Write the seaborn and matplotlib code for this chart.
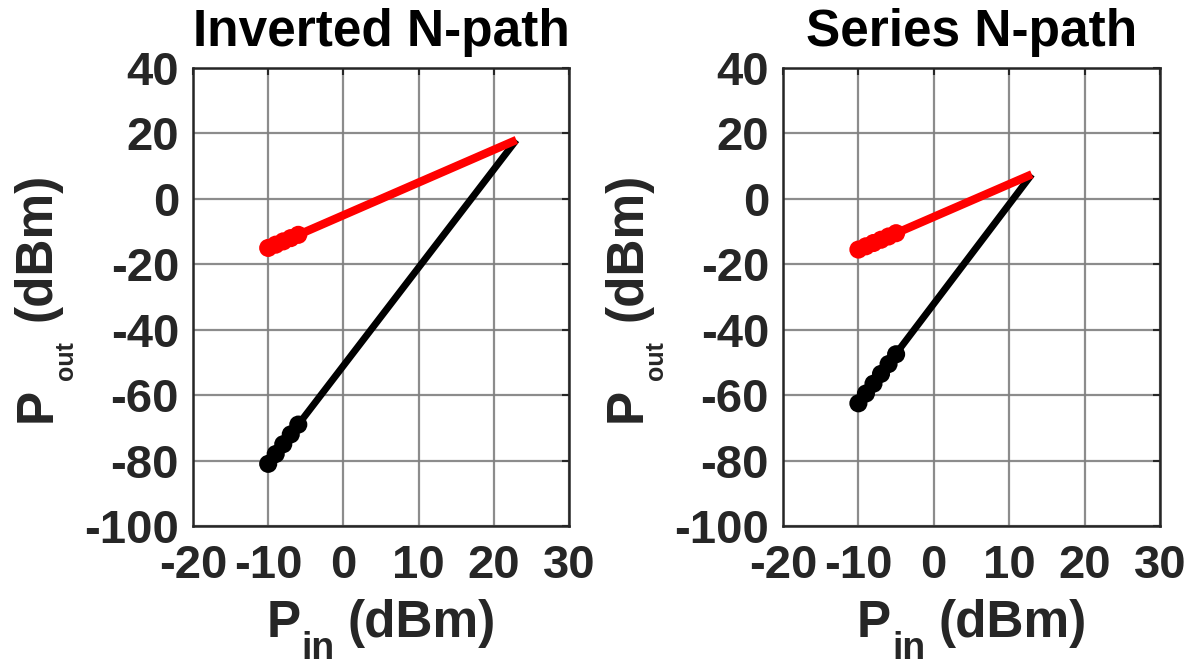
import matplotlib
matplotlib.use("Agg")
import matplotlib.pyplot as plt
import pandas as pd
import seaborn as sns

# Measured two-tone points (Pin in dBm) and fitted extrapolation lines
titles = ["Inverted N-path", "Series N-path"]

pin_meas_inv = [-10, -9, -8, -7, -6]
fund_meas_inv = [-15, -14, -13, -12, -11]
im3_meas_inv = [-81, -78, -75, -72, -69]
pin_fit_inv = [-10, 23]
fund_fit_inv = [-15, 18]
im3_fit_inv = [-81, 18]

pin_meas_ser = [-10, -9, -8, -7, -6, -5]
fund_meas_ser = [-15.5, -14.5, -13.5, -12.5, -11.5, -10.5]
im3_meas_ser = [-62.5, -59.5, -56.5, -53.5, -50.5, -47.5]
pin_fit_ser = [-10, 13]
fund_fit_ser = [-15.5, 7.5]
im3_fit_ser = [-62.5, 7.5]

x_ticks = [-20, -10, 0, 10, 20, 30]
y_ticks = [40, 20, 0, -20, -40, -60, -80, -100]

sns.set_theme(style="white")
plt.rcParams["font.family"] = ["Liberation Sans", "DejaVu Sans"]
plt.rcParams["font.weight"] = "bold"
plt.rcParams["axes.unicode_minus"] = False

TXT = "#262626"
FS_TICK = 34
FS_LAB = 37
FS_SUB_X = 27
FS_SUB_Y = 18

W, H = 1198, 665
fig = plt.figure(figsize=(W / 100, H / 100), dpi=100)
ax_l = fig.add_axes([193 / W, 1 - 526 / H, 376 / W, 458 / H])
ax_r = fig.add_axes([783 / W, 1 - 526 / H, 377 / W, 458 / H])

panels = [
    (ax_l, titles[0], pin_meas_inv, fund_meas_inv, im3_meas_inv,
     pin_fit_inv, fund_fit_inv, im3_fit_inv),
    (ax_r, titles[1], pin_meas_ser, fund_meas_ser, im3_meas_ser,
     pin_fit_ser, fund_fit_ser, im3_fit_ser),
]


def label_group(ax, main, sub, rest, vertical):
    """Axis label made of a main letter, a lowered subscript and a tail."""
    kw = dict(color=TXT, fontweight="bold", annotation_clip=False)
    if not vertical:
        t_p = ax.annotate(main, xy=(0, 0), xycoords="figure pixels",
                          ha="left", va="bottom", fontsize=FS_LAB, **kw)
        t_s = ax.annotate(sub, xy=(1, 0), xycoords=t_p, xytext=(1, -13.5),
                          textcoords="offset points", ha="left", va="bottom",
                          fontsize=FS_SUB_X, **kw)
        t_r = ax.annotate(rest, xy=(1, 0), xycoords=(t_s, t_p),
                          xytext=(9, 0), textcoords="offset points",
                          ha="left", va="bottom", fontsize=FS_LAB, **kw)
    else:
        t_p = ax.annotate(main, xy=(0, 0), xycoords="figure pixels",
                          ha="right", va="bottom", rotation=90,
                          fontsize=FS_LAB, **kw)
        t_s = ax.annotate(sub, xy=(1, 1), xycoords=t_p, xytext=(11.5, 5),
                          textcoords="offset points", ha="right", va="bottom",
                          rotation=90, fontsize=FS_SUB_Y, **kw)
        t_r = ax.annotate(rest, xy=(1, 1), xycoords=(t_p, t_s),
                          xytext=(0, 15), textcoords="offset points",
                          ha="right", va="bottom", rotation=90,
                          fontsize=FS_LAB, **kw)
    return t_p, t_s, t_r


def shift(t, dx, dy):
    x, y = t.xyann
    t.xyann = (x + dx, y + dy)
    t.xy = (x + dx, y + dy)


groups = []
for ax, title, pm, fm, im, pf, ff, imf in panels:
    meas = pd.DataFrame({"pin": pm, "fund": fm, "im3": im})
    fit = pd.DataFrame({"pin": pf, "fund": ff, "im3": imf})

    # third-order product (black), then fundamental (red)
    sns.lineplot(data=fit, x="pin", y="im3", ax=ax, color="black",
                 linewidth=5, solid_capstyle="butt", zorder=3)
    sns.scatterplot(data=meas, x="pin", y="im3", ax=ax, color="black",
                    s=170, edgecolor="none", zorder=4)
    sns.lineplot(data=fit, x="pin", y="fund", ax=ax, color="#ff0000",
                 linewidth=6, solid_capstyle="butt", zorder=5)
    sns.scatterplot(data=meas, x="pin", y="fund", ax=ax, color="#ff0000",
                    s=170, edgecolor="none", zorder=6)

    ax.set_xlim(-20, 30)
    ax.set_ylim(-100, 40)
    ax.set_xticks(x_ticks)
    ax.set_yticks(y_ticks)
    ax.grid(True, color="#808080", linewidth=1.6, alpha=0.9)
    ax.set_axisbelow(True)
    for sp in ax.spines.values():
        sp.set_visible(True)
        sp.set_color(TXT)
        sp.set_linewidth(1.8)
    ax.tick_params(axis="both", direction="in", length=5, width=1.5,
                   top=True, right=True, labelsize=FS_TICK, colors=TXT)
    ax.tick_params(axis="x", pad=13)
    ax.tick_params(axis="y", pad=10)
    for lbl in ax.get_xticklabels() + ax.get_yticklabels():
        lbl.set_fontweight("bold")
    ax.set_title(title, fontsize=FS_LAB, fontweight="bold", color="black",
                 pad=16)
    ax.set_xlabel("")
    ax.set_ylabel("")

    xg = label_group(ax, "P", "in", "(dBm)", vertical=False)
    yg = label_group(ax, "P", "out", "(dBm)", vertical=True)
    groups.append((ax, xg, yg))

# place the label groups: x label centred under its axes, y label centred
# beside its axes
fig.canvas.draw()
renderer = fig.canvas.get_renderer()
for ax, xg, yg in groups:
    apos = ax.get_window_extent(renderer)
    cx = 0.5 * (apos.x0 + apos.x1)
    cy = 0.5 * (apos.y0 + apos.y1)

    # x label
    bbs = [t.get_window_extent(renderer) for t in xg]
    gx0 = min(b.x0 for b in bbs)
    gx1 = max(b.x1 for b in bbs)
    ptop = bbs[0].y1
    shift(xg[0], cx - 0.5 * (gx0 + gx1), (H - 599) - ptop)

    # y label
    bbs = [t.get_window_extent(renderer) for t in yg]
    gy0 = min(b.y0 for b in bbs)
    gy1 = max(b.y1 for b in bbs)
    pleft = bbs[0].x0
    shift(yg[0], (apos.x0 - 180) - pleft, cy - 0.5 * (gy0 + gy1))

fig.savefig("out.png", dpi=100)
